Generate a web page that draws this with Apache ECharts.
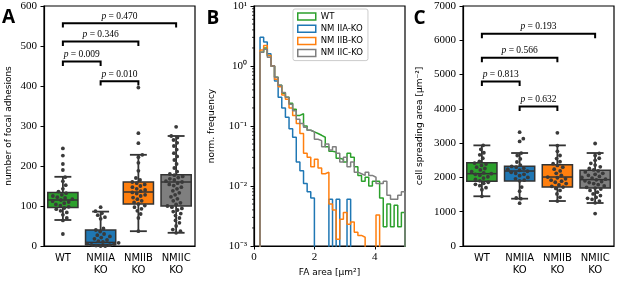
<!DOCTYPE html>
<html>
<head>
<meta charset="utf-8">
<script src="https://cdn.jsdelivr.net/npm/echarts@6/dist/echarts.min.js"></script>
<style>
  html, body { margin: 0; padding: 0; background: #fff; }
  #chart { width: 617px; height: 282px; }
</style>
</head>
<body>
<div id="chart"></div>
<script>
// groups shared by panels A and C
var groupNames = ['WT', 'NMIIA\nKO', 'NMIIB\nKO', 'NMIIC\nKO'];

// panel A: number of focal adhesions, box = [low whisker, q1, median, q3, high whisker]
var faBox = [[65, 96, 115, 134, 173], [0, 3, 9, 40, 86], [37, 105, 135, 160, 228], [33, 100, 160, 178, 275]];
var faWT = [244, 226, 205, 190, 172, 162, 152, 143, 136, 132, 128, 125, 122, 120, 117, 115, 112, 110, 107, 104, 101, 98, 95, 92, 88, 84, 78, 70, 64, 30];
var faIIA = [97, 87, 82, 77, 72, 68, 44, 40, 36, 30, 27, 24, 21, 18, 15, 12, 10, 8, 6, 5, 3, 2, 1, 0, 0];
var faIIB = [396, 282, 257, 228, 222, 208, 188, 170, 165, 160, 157, 154, 150, 147, 143, 140, 137, 134, 131, 128, 125, 121, 117, 113, 109, 105, 101, 97, 93, 88, 80, 70, 37];
var faIIC = [298, 275, 271, 265, 258, 250, 241, 232, 224, 215, 205, 195, 186, 180, 177, 174, 171, 168, 165, 162, 160, 157, 154, 151, 147, 143, 138, 133, 128, 123, 118, 113, 108, 104, 100, 97, 94, 90, 86, 81, 76, 70, 64, 58, 50, 41, 37, 33];
// [group a, group b, bracket level, p]
var faTests = [[0, 3, 557, '0.470'], [0, 2, 511, '0.346'], [0, 1, 461, '0.009'], [1, 2, 412, '0.010']];

// panel C: cell spreading area
var areaBox = [[1450, 1886, 2110, 2430, 2935], [1380, 1895, 2187, 2323, 2712], [1312, 1720, 2012, 2373, 2935], [1254, 1691, 1935, 2207, 2712]];
var areaWT = [2935, 2820, 2720, 2660, 2560, 2470, 2420, 2390, 2350, 2300, 2260, 2220, 2170, 2130, 2110, 2090, 2060, 2020, 1980, 1940, 1900, 1860, 1830, 1800, 1760, 1700, 1640, 1450];
var areaIIA = [3320, 3130, 3050, 2710, 2640, 2540, 2450, 2360, 2320, 2300, 2270, 2240, 2210, 2180, 2150, 2120, 2090, 2050, 2000, 1960, 1920, 1900, 1720, 1600, 1400, 1380, 1250];
var areaIIB = [3300, 2930, 2760, 2640, 2550, 2460, 2400, 2350, 2300, 2240, 2190, 2120, 2060, 2010, 1990, 1960, 1920, 1890, 1860, 1820, 1780, 1740, 1720, 1680, 1620, 1520, 1420, 1310];
var areaIIC = [2990, 2700, 2640, 2560, 2500, 2410, 2360, 2310, 2260, 2220, 2190, 2160, 2120, 2090, 2060, 2030, 2000, 1980, 1950, 1930, 1900, 1880, 1850, 1820, 1790, 1750, 1710, 1690, 1660, 1620, 1570, 1520, 1470, 1420, 1390, 1360, 1310, 1260, 945];
var areaTests = [[0, 3, 6190, '0.193'], [0, 2, 5490, '0.566'], [0, 1, 4800, '0.813'], [1, 2, 4070, '0.632']];

// panel B: normalised FA area histograms (0 = empty bin)
var histNames = ['WT', 'NM IIA-KO', 'NM IIB-KO', 'NM IIC-KO'];
var binEdges = [0.2, 0.32, 0.44, 0.56, 0.68, 0.8, 0.92, 1.04, 1.16, 1.28, 1.4, 1.52, 1.64, 1.76, 1.88, 2.0, 2.12, 2.24, 2.36, 2.48, 2.6,
  2.72, 2.84, 2.96, 3.08, 3.2, 3.32, 3.44, 3.56, 3.68, 3.8, 3.92, 4.04, 4.16, 4.28, 4.4, 4.52, 4.64, 4.76, 4.88, 5.0];
var histWT = [1.7, 2.0, 1.5, 1.0, 0.65, 0.48, 0.35, 0.3, 0.24, 0.19, 0.15, 0.16, 0.1, 0.085, 0.08, 0.075, 0.07, 0.065, 0.045, 0.038,
  0.037, 0.029, 0.028, 0.025, 0.035, 0.03, 0.021, 0.015, 0.012, 0.014, 0.01, 0.012, 0.012, 0.0063, 0.0021, 0.005, 0.0021, 0.0048, 0.0021, 0.0036];
var histIIA = [3.0, 2.5, 1.6, 1.0, 0.56, 0.3, 0.2, 0.14, 0.09, 0.065, 0.025, 0.018, 0.011, 0.008, 0.0063, 0, 0, 0, 0, 0.006,
  0, 0.006, 0, 0, 0.006, 0, 0, 0, 0, 0, 0, 0, 0, 0, 0, 0, 0, 0, 0, 0];
var histIIB = [1.85, 2.2, 1.5, 1.0, 0.6, 0.45, 0.33, 0.28, 0.2, 0.15, 0.11, 0.075, 0.035, 0.03, 0.021, 0.028, 0.02, 0.016, 0.017, 0.005,
  0.004, 0.0013, 0.0028, 0.0036, 0.0023, 0.0025, 0.0017, 0.0015, 0.0014, 0, 0, 0, 0.0033, 0, 0, 0, 0, 0, 0, 0];
var histIIC = [1.7, 1.9, 1.4, 1.0, 0.65, 0.48, 0.36, 0.3, 0.23, 0.18, 0.13, 0.11, 0.095, 0.085, 0.08, 0.06, 0.057, 0.045, 0.05, 0.04,
  0.045, 0.035, 0.025, 0.03, 0.021, 0.025, 0.017, 0.016, 0.015, 0.017, 0.015, 0.014, 0.011, 0.011, 0.012, 0.007, 0.006, 0.006, 0.007, 0.008];
var logTickValues = [0.001, 0.01, 0.1, 1, 10];
var logTickLabels = ['10⁻³', '10⁻²', '10⁻¹', '10⁰', '10¹'];
var logMinorTicks = [0.002, 0.003, 0.004, 0.005, 0.006, 0.007, 0.008, 0.009, 0.02, 0.03, 0.04, 0.05, 0.06, 0.07, 0.08, 0.09,
  0.2, 0.3, 0.4, 0.5, 0.6, 0.7, 0.8, 0.9, 2, 3, 4, 5, 6, 7, 8, 9];

var colors = ['#2ca02c', '#1f77b4', '#ff7f0e', '#7f7f7f'];
var serif = 'Liberation Serif';
var sans = 'DejaVu Sans';
var edgeColor = '#333333';

var chart = echarts.init(document.getElementById('chart'), null, { renderer: 'canvas' });

// beeswarm offsets in pixels, smallest offset that touches without overlap
function swarm(ys, d) {
  var order = ys.map(function (y, i) { return i; }).sort(function (a, b) { return ys[b] - ys[a]; });
  var placed = [];
  var xs = [];
  order.forEach(function (i) {
    var y = ys[i];
    var near = placed.filter(function (p) { return Math.abs(p[1] - y) < d; });
    var cands = [0];
    near.forEach(function (p) {
      var dx = Math.sqrt(d * d - (p[1] - y) * (p[1] - y));
      cands.push(p[0] + dx, p[0] - dx);
    });
    cands.sort(function (a, b) { return Math.abs(a) - Math.abs(b); });
    var x = 0;
    for (var c = 0; c < cands.length; c++) {
      var ok = near.every(function (p) {
        return (p[0] - cands[c]) * (p[0] - cands[c]) + (p[1] - y) * (p[1] - y) >= d * d - 0.01;
      });
      if (ok) { x = cands[c]; break; }
    }
    xs[i] = x;
    placed.push([x, y]);
  });
  return xs;
}

function boxRender(stats) {
  return function (params, api) {
    var k = params.dataIndex;
    var s = stats[k];
    var bw = api.size([1, 0])[0] * 0.8;
    var cap = bw * 0.56;
    var x = api.coord([k, s[2]])[0];
    var y = function (v) { return api.coord([k, v])[1]; };
    var ln = function (x1, y1, x2, y2, w) {
      return { type: 'line', shape: { x1: x1, y1: y1, x2: x2, y2: y2 }, style: { stroke: edgeColor, lineWidth: w } };
    };
    return {
      type: 'group',
      children: [
        ln(x, y(s[3]), x, y(s[4]), 1.8),
        ln(x, y(s[1]), x, y(s[0]), 1.8),
        ln(x - cap / 2, y(s[4]), x + cap / 2, y(s[4]), 1.8),
        ln(x - cap / 2, y(s[0]), x + cap / 2, y(s[0]), 1.8),
        { type: 'rect', shape: { x: x - bw / 2, y: y(s[3]), width: bw, height: y(s[1]) - y(s[3]) },
          style: { fill: colors[k], stroke: edgeColor, lineWidth: 1.5 } },
        ln(x - bw / 2, y(s[2]), x + bw / 2, y(s[2]), 1.5)
      ]
    };
  };
}

function swarmRender(points) {
  return function (params, api) {
    var k = params.dataIndex;
    var cx = api.coord([k, 0])[0];
    var ys = points[k].map(function (v) { return api.coord([k, v])[1]; });
    var xs = swarm(ys, 4.6);
    return {
      type: 'group',
      children: ys.map(function (py, i) {
        return { type: 'circle', shape: { cx: cx + xs[i], cy: py, r: 1.9 }, style: { fill: '#3a3a3a' } };
      })
    };
  };
}

function bracketRender(tests, leg) {
  return function (params, api) {
    var t = tests[params.dataIndex];
    var a = api.coord([t[0], t[2]]);
    var b = api.coord([t[1], t[2]]);
    var foot = api.coord([t[0], t[2] - leg])[1];
    return {
      type: 'group',
      children: [
        { type: 'polyline', shape: { points: [[a[0], foot], [a[0], a[1]], [b[0], b[1]], [b[0], foot]] },
          style: { stroke: '#000', lineWidth: 2, fill: 'none' } },
        { type: 'text', x: (a[0] + b[0]) / 2, y: a[1] - 2,
          style: { text: '{i|p} = ' + t[3], fontFamily: serif, fontSize: 9.5, fill: '#000',
            textAlign: 'center', textVerticalAlign: 'bottom', align: 'center', verticalAlign: 'bottom',
            rich: { i: { fontStyle: 'italic', fontFamily: serif, fontSize: 9.5 } } } }
      ]
    };
  };
}

function stepData(vals) {
  var floor = 1e-6;
  var pts = [[binEdges[0], floor]];
  vals.forEach(function (v, i) { pts.push([binEdges[i], v > 0 ? v : floor]); });
  pts.push([binEdges[binEdges.length - 1], floor]);
  return pts;
}

function catAxis(grid) {
  return {
    type: 'category', gridIndex: grid, data: groupNames,
    axisLine: { lineStyle: { color: '#000', width: 1.2 } },
    axisTick: { alignWithLabel: true, length: 3.5, lineStyle: { color: '#000' } },
    axisLabel: { color: '#000', fontFamily: sans, fontSize: 10, lineHeight: 12, margin: 6 },
    splitLine: { show: false }
  };
}

function valAxis(grid, max, step, name, gap) {
  return {
    type: 'value', gridIndex: grid, min: 0, max: max, interval: step,
    name: name, nameLocation: 'middle', nameGap: gap, nameRotate: 90,
    nameTextStyle: { color: '#000', fontFamily: sans, fontSize: 9 },
    axisLine: { show: true, lineStyle: { color: '#000', width: 1.2 } },
    axisTick: { show: true, length: 3.5, lineStyle: { color: '#000' } },
    axisLabel: { color: '#000', fontFamily: serif, fontSize: 11, margin: 7,
      formatter: function (v) { return String(v); } },
    splitLine: { show: false }
  };
}

var gridBase = { top: 6, height: 240, width: 151, show: true, borderColor: '#000', borderWidth: 1.2, containLabel: false, outerBoundsMode: 'none' };

var option = {
  animation: false,
  backgroundColor: '#fff',
  grid: [
    Object.assign({ left: 44 }, gridBase),
    Object.assign({ left: 254 }, gridBase),
    Object.assign({ left: 463 }, gridBase)
  ],
  xAxis: [
    catAxis(0),
    {
      type: 'value', gridIndex: 1, min: 0, max: 5, interval: 2,
      name: 'FA area [μm²]', nameLocation: 'middle', nameGap: 22,
      nameTextStyle: { color: '#000', fontFamily: sans, fontSize: 9 },
      axisLine: { lineStyle: { color: '#000', width: 1.2 } },
      axisTick: { length: 3.5, lineStyle: { color: '#000' }, customValues: [0, 2, 4] },
      axisLabel: { color: '#000', fontFamily: serif, fontSize: 11, margin: 6, customValues: [0, 2, 4] },
      splitLine: { show: false }
    },
    catAxis(2)
  ],
  yAxis: [
    valAxis(0, 600, 100, 'number of focal adhesions', 31),
    {
      type: 'log', logBase: 10, gridIndex: 1, min: 0.001, max: 10,
      name: 'norm. frequency', nameLocation: 'middle', nameGap: 38, nameRotate: 90,
      nameTextStyle: { color: '#000', fontFamily: sans, fontSize: 9 },
      axisLine: { show: true, lineStyle: { color: '#000', width: 1.2 } },
      axisTick: { show: true, length: 3.5, lineStyle: { color: '#000' } },
      axisLabel: {
        color: '#000', fontFamily: serif, fontSize: 11, margin: 7,
        formatter: function (v) {
          var best = 0;
          logTickValues.forEach(function (t, i) {
            if (Math.abs(Math.log10(t) - Math.log10(v)) < Math.abs(Math.log10(logTickValues[best]) - Math.log10(v))) best = i;
          });
          return logTickLabels[best];
        }
      },
      splitLine: { show: false }
    },
    valAxis(2, 7000, 1000, 'cell spreading area [μm⁻²]', 39)
  ],
  legend: {
    data: histNames.map(function (n, i) {
      return { name: n, itemStyle: { color: 'transparent', borderColor: colors[i], borderWidth: 1.5 } };
    }),
    icon: 'rect', orient: 'vertical', left: 293, top: 9,
    itemWidth: 18, itemHeight: 7, itemGap: 3.2,
    padding: [3, 5, 3, 4],
    backgroundColor: '#fff', borderColor: '#cccccc', borderWidth: 1, borderRadius: 2,
    textStyle: { color: '#000', fontFamily: sans, fontSize: 8.5, lineHeight: 8.5 },
    selectedMode: false
  },
  graphic: [
    { type: 'text', x: 8.5, y: 17.5, style: { text: 'A', font: 'bold 19px "Open Sans"', fill: '#000', textAlign: 'center', textVerticalAlign: 'middle' } },
    { type: 'text', x: 213, y: 18.5, style: { text: 'B', font: 'bold 19px "Open Sans"', fill: '#000', textAlign: 'center', textVerticalAlign: 'middle' } },
    { type: 'text', x: 419.5, y: 19, style: { text: 'C', font: 'bold 19px "Open Sans"', fill: '#000', textAlign: 'center', textVerticalAlign: 'middle' } }
  ],
  series: [
    // panel A
    { type: 'custom', name: 'faBox', xAxisIndex: 0, yAxisIndex: 0, silent: true, clip: false,
      data: faBox.map(function (s, i) { return [i, s[2]]; }), encode: { x: 0, y: 1 }, renderItem: boxRender(faBox) },
    { type: 'custom', name: 'faPts', xAxisIndex: 0, yAxisIndex: 0, silent: true, clip: false, z: 3,
      data: faBox.map(function (s, i) { return [i, s[2]]; }), encode: { x: 0, y: 1 },
      renderItem: swarmRender([faWT, faIIA, faIIB, faIIC]) },
    { type: 'custom', name: 'faTests', xAxisIndex: 0, yAxisIndex: 0, silent: true, clip: false,
      data: faTests.map(function (t) { return [t[0], t[2]]; }), encode: { x: 0, y: 1 }, renderItem: bracketRender(faTests, 11) },
    // panel B
    { type: 'line', name: histNames[0], xAxisIndex: 1, yAxisIndex: 1, step: 'end', symbol: 'none', clip: true,
      data: stepData(histWT), lineStyle: { color: colors[0], width: 1.5 }, itemStyle: { color: colors[0] } },
    { type: 'line', name: histNames[1], xAxisIndex: 1, yAxisIndex: 1, step: 'end', symbol: 'none', clip: true,
      data: stepData(histIIA), lineStyle: { color: colors[1], width: 1.5 }, itemStyle: { color: colors[1] } },
    { type: 'line', name: histNames[2], xAxisIndex: 1, yAxisIndex: 1, step: 'end', symbol: 'none', clip: true,
      data: stepData(histIIB), lineStyle: { color: colors[2], width: 1.5 }, itemStyle: { color: colors[2] } },
    { type: 'line', name: histNames[3], xAxisIndex: 1, yAxisIndex: 1, step: 'end', symbol: 'none', clip: true,
      data: stepData(histIIC), lineStyle: { color: colors[3], width: 1.5 }, itemStyle: { color: colors[3] } },
    { type: 'custom', name: 'minorTicks', xAxisIndex: 1, yAxisIndex: 1, silent: true, clip: false,
      data: logMinorTicks.map(function (v) { return [0, v]; }), encode: { x: 0, y: 1 },
      renderItem: function (params, api) {
        var p = api.coord([0, logMinorTicks[params.dataIndex]]);
        return { type: 'line', shape: { x1: p[0] - 2, y1: p[1], x2: p[0], y2: p[1] }, style: { stroke: '#000', lineWidth: 0.8 } };
      } },
    // panel C
    { type: 'custom', name: 'areaBox', xAxisIndex: 2, yAxisIndex: 2, silent: true, clip: false,
      data: areaBox.map(function (s, i) { return [i, s[2]]; }), encode: { x: 0, y: 1 }, renderItem: boxRender(areaBox) },
    { type: 'custom', name: 'areaPts', xAxisIndex: 2, yAxisIndex: 2, silent: true, clip: false, z: 3,
      data: areaBox.map(function (s, i) { return [i, s[2]]; }), encode: { x: 0, y: 1 },
      renderItem: swarmRender([areaWT, areaIIA, areaIIB, areaIIC]) },
    { type: 'custom', name: 'areaTests', xAxisIndex: 2, yAxisIndex: 2, silent: true, clip: false,
      data: areaTests.map(function (t) { return [t[0], t[2]]; }), encode: { x: 0, y: 1 }, renderItem: bracketRender(areaTests, 130) }
  ]
};

chart.setOption(option);
</script>
</body>
</html>
